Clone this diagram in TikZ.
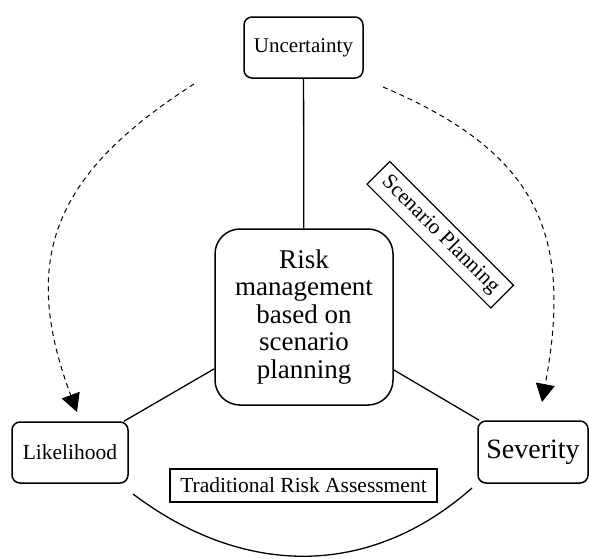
\documentclass[tikz,border=0pt]{standalone}
\usepackage{fontspec}
\setmainfont{Liberation Serif}
\usetikzlibrary{arrows.meta}

\begin{document}
\begin{tikzpicture}[x=1pt,y=-1pt,
  roundbox/.style={draw, line width=1.5pt, rounded corners=8pt, inner sep=0pt, align=center},
  labelbox/.style={draw, line width=1.1pt, inner sep=0pt, font=\fontsize{21.5}{24}\selectfont},
  link/.style={line width=1.3pt},
  flow/.style={line width=1pt, dash pattern=on 5pt off 4pt, -{Triangle[length=18pt,width=19pt]}},
]
\useasboundingbox (0,0) rectangle (589,558);

% corner boxes
\node[roundbox, minimum width=119pt, minimum height=61pt, font=\fontsize{21}{24}\selectfont] (unc) at (303.5,47.5) {Uncertainty};
\node[roundbox, minimum width=116pt, minimum height=61pt, font=\fontsize{21.5}{24}\selectfont] (lik) at (70,452.5) {Likelihood};
\node[roundbox, minimum width=110pt, minimum height=62pt, font=\fontsize{28}{30}\selectfont] (sev) at (533,452) {Severity};

% central box
\node[roundbox, rounded corners=25pt, minimum width=178pt, minimum height=176pt, font=\fontsize{27}{27.5}\selectfont] (core) at (304,317)
  {Risk\\management\\based on\\scenario\\planning};

% method labels
\node[labelbox, minimum width=175pt, minimum height=32pt, rotate=-45] (scen) at (440.3,234.7) {Scenario Planning};
\node[labelbox, minimum width=267pt, minimum height=33pt] (trad) at (303.5,485.5) {Traditional Risk Assessment};

% solid links
\draw[link] (unc) -- (core);
\draw[link] (core) -- (lik);
\draw[link] (core) -- (sev);

% dashed flows from uncertainty
\coordinate (ls) at (194,84);
\coordinate (le) at (77,412);
\coordinate (rs) at (383,87);
\coordinate (re) at (542,402);
\draw[flow] (ls) .. controls (55,173) and (19,257) .. (le);
\draw[flow] (rs) .. controls (539,153) and (573,235) .. (re);

% bottom arc between likelihood and severity
\coordinate (bs) at (133,494);
\coordinate (be) at (472,488);
\draw[link] (bs) .. controls (243,577) and (369,579) .. (be);
\end{tikzpicture}
\end{document}
